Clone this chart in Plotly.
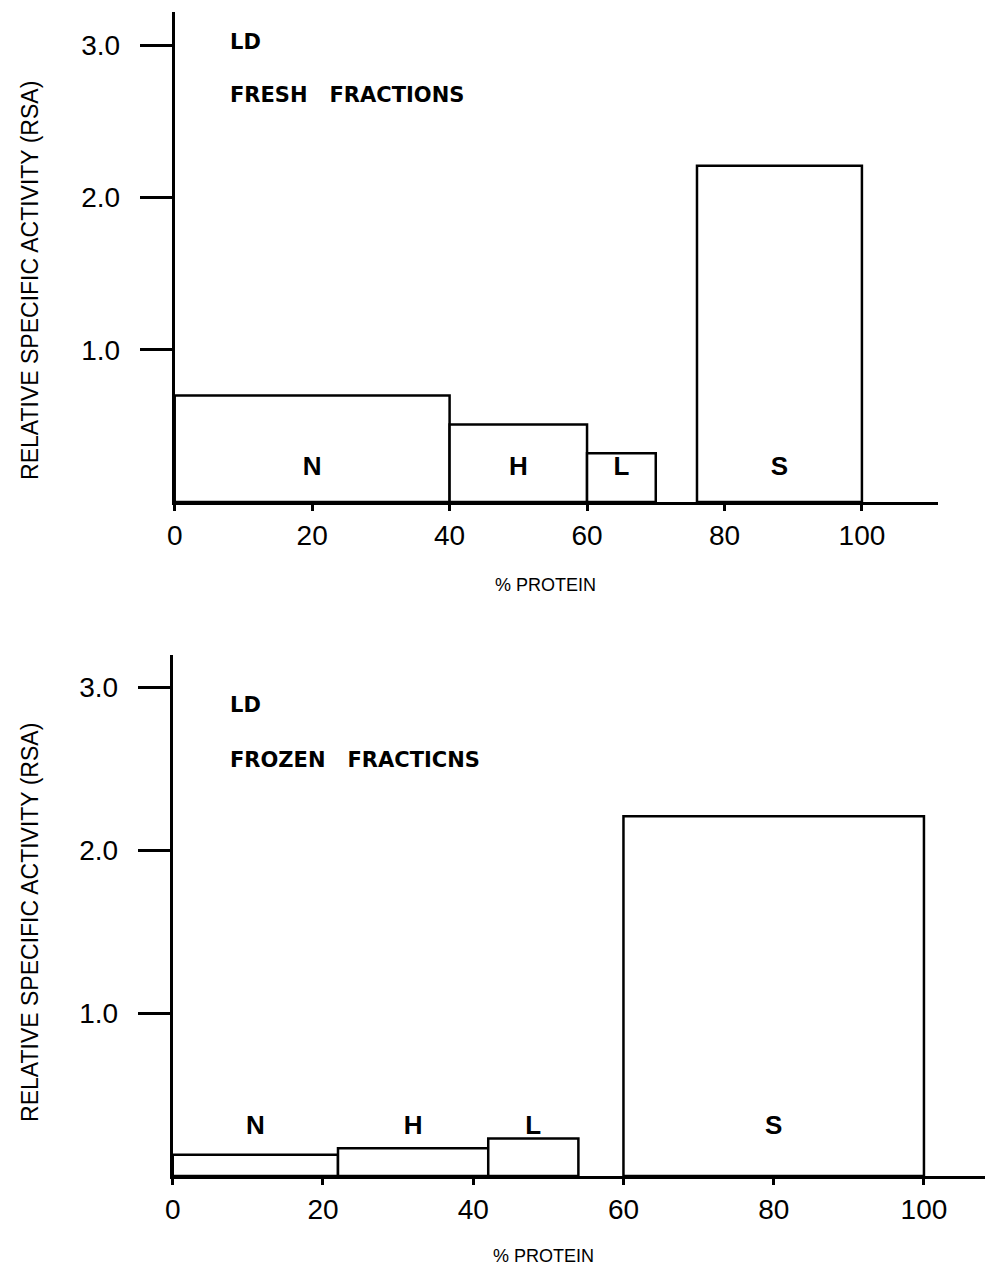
import plotly.graph_objects as go

# ---- data ----
fractions = ["N", "H", "L", "S"]
fresh_start = [0, 40, 60, 76]
fresh_end = [40, 60, 70, 100]
fresh_rsa = [0.70, 0.51, 0.32, 2.21]

frozen_start = [0, 22, 42, 60]
frozen_end = [22, 42, 54, 100]
frozen_rsa = [0.13, 0.17, 0.23, 2.21]

y_ticks = [1.0, 2.0, 3.0]
y_ticklabels = ["1.0", "2.0", "3.0"]
x_ticks = [0, 20, 40, 60, 80, 100]

W, H = 993, 1270
OFF = 8  # page body margin
def px(x): return (x - OFF) / W
def py(y): return 1 - (y - OFF) / H

fig = go.Figure()

FONT = "Liberation Sans, Arial, sans-serif"
BOLD = "DejaVu Sans, Liberation Sans, sans-serif"

def add_panel(fig, starts, ends, vals, xa, ya, label_y):
    centers = [(s + e) / 2 for s, e in zip(starts, ends)]
    widths = [e - s for s, e in zip(starts, ends)]
    fig.add_trace(go.Bar(
        x=centers, y=vals, width=widths,
        marker=dict(color="white", line=dict(color="black", width=2.5)),
        xaxis=xa, yaxis=ya, showlegend=False, hoverinfo="skip"))
    fig.add_trace(go.Scatter(
        x=centers, y=[label_y] * len(centers), text=fractions,
        mode="text", textfont=dict(family=FONT, size=26, color="black", weight="bold"),
        xaxis=xa, yaxis=ya, showlegend=False, hoverinfo="skip"))

add_panel(fig, fresh_start, fresh_end, fresh_rsa, "x", "y", 0.22)
add_panel(fig, frozen_start, frozen_end, frozen_rsa, "x2", "y2", 0.30)

axis_common = dict(showgrid=False, zeroline=False, showline=True,
                   linecolor="black", linewidth=3, ticks="outside",
                   tickcolor="black", tickwidth=2.5,
                   tickfont=dict(family=FONT, size=28, color="black"))

fig.update_layout(
    width=W, height=H, margin=dict(l=0, r=0, t=0, b=0),
    paper_bgcolor="white", plot_bgcolor="white", barmode="overlay",
    xaxis=dict(domain=[px(168), px(937)], range=[0, 111], anchor="y",
               tickvals=x_ticks, ticklen=6, **axis_common),
    yaxis=dict(domain=[py(502), py(12)], range=[0, 3.22], anchor="x",
               tickvals=y_ticks, ticktext=y_ticklabels, ticklen=32,
               ticklabelstandoff=14, **axis_common),
    xaxis2=dict(domain=[px(166), px(993)], range=[0, 109.2], anchor="y2",
                tickvals=x_ticks, ticklen=6, **axis_common),
    yaxis2=dict(domain=[py(1176), py(655)], range=[0, 3.2], anchor="x2",
                tickvals=y_ticks, ticktext=y_ticklabels, ticklen=32,
                ticklabelstandoff=14, **axis_common),
)

ann = []
ytitle = "RELATIVE SPECIFIC ACTIVITY (RSA)"
for yc in (280, 922):
    ann.append(dict(x=px(22), y=py(yc), xref="paper", yref="paper", text=ytitle,
                    textangle=-90, showarrow=False, xanchor="center", yanchor="middle",
                    font=dict(family=FONT, size=23, color="black")))
ann.append(dict(x=px(542), y=py(585), xref="paper", yref="paper", text="% PROTEIN",
                showarrow=False, xanchor="center", yanchor="middle",
                font=dict(family=FONT, size=18, color="black")))
ann.append(dict(x=px(540), y=py(1256), xref="paper", yref="paper", text="% PROTEIN",
                showarrow=False, xanchor="center", yanchor="middle",
                font=dict(family=FONT, size=18, color="black")))
for (txt, x, y) in [("LD", 222, 42), ("FRESH   FRACTIONS", 222, 95),
                    ("LD", 222, 705), ("FROZEN   FRACTICNS", 222, 760)]:
    ann.append(dict(x=px(x), y=py(y), xref="paper", yref="paper", text=txt,
                    xanchor="left", yanchor="middle", showarrow=False,
                    font=dict(family=BOLD, size=21, color="black", weight="bold")))
fig.update_layout(annotations=ann)

fig.write_html("out.html")
